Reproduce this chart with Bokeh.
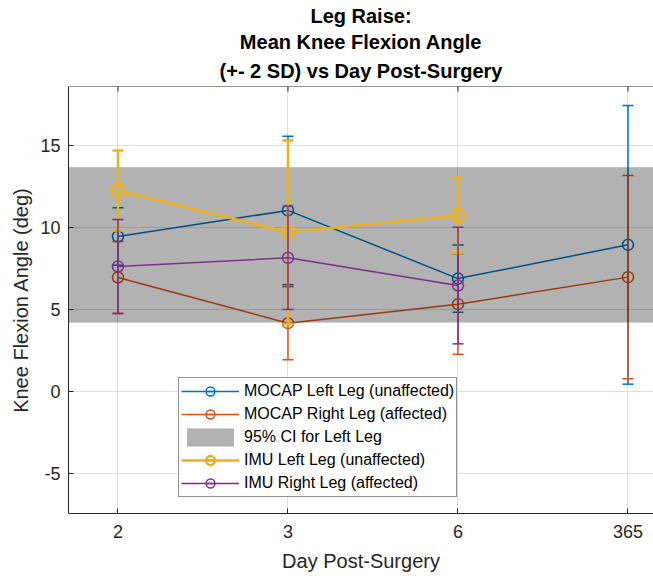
import math
from bokeh.plotting import figure
from bokeh.models import Range1d, FixedTicker, Legend, LegendItem, Title, Span
from bokeh.embed import file_html
from bokeh.resources import INLINE

nan = float("nan")

# ---- data ----
day_labels = ["2", "3", "6", "365"]
x_pos = [1, 2, 3, 4]

mocap_left_mean = [9.45, 11.04, 6.88, 8.94]
mocap_left_err = [1.75, 4.53, 2.05, 8.50]
mocap_right_mean = [6.95, 4.16, 5.32, 6.97]
mocap_right_err = [2.20, 2.23, 3.06, 6.20]
imu_left_mean = [12.26, 9.71, 10.73, nan]
imu_left_err = [2.44, 5.60, 2.30, nan]
imu_right_mean = [7.62, 8.15, 6.46, nan]
imu_right_err = [2.87, 3.15, 3.56, nan]

ci_lower = [4.21]
ci_upper = [13.66]

y_ticks = [-5, 0, 5, 10, 15]
y_tick_labels = ["-5", "0", "5", "10", "15"]

title_lines = ["Leg Raise:", "Mean Knee Flexion Angle", "(+- 2 SD) vs Day Post-Surgery"]

FONT = "Liberation Sans"
AX = "#262626"

p = figure(width=653, height=576, output_backend="svg", toolbar_location=None,
           x_range=Range1d(0.709, 4.15), y_range=Range1d(-7.45, 18.6),
           min_border_left=68, min_border_right=0, min_border_top=86, min_border_bottom=63)
p.outline_line_color = None
p.background_fill_color = "white"
p.border_fill_color = "white"

# axes
xa = p.xaxis[0]
xa.ticker = FixedTicker(ticks=x_pos)
xa.major_label_overrides = {xv: lab for xv, lab in zip(x_pos, day_labels)}
ya = p.yaxis[0]
ya.ticker = FixedTicker(ticks=y_ticks)
ya.major_label_overrides = {yv: lab for yv, lab in zip(y_ticks, y_tick_labels)}
for ax in (xa, ya):
    ax.major_tick_in = 5
    ax.major_tick_out = 0
    ax.minor_tick_line_color = None
    ax.axis_line_color = AX
    ax.major_tick_line_color = AX
    ax.major_label_text_color = AX
    ax.major_label_text_font = FONT
    ax.major_label_text_font_size = "18px"
    ax.axis_label_text_font = FONT
    ax.axis_label_text_font_size = "20px"
    ax.axis_label_text_font_style = "normal"
    ax.axis_label_text_color = AX
xa.axis_label = "Day Post-Surgery"
ya.axis_label = "Knee Flexion Angle (deg)"
xa.major_label_standoff = 11
xa.axis_label_standoff = 9
ya.major_label_standoff = 8
ya.axis_label_standoff = 5

p.xgrid.ticker = FixedTicker(ticks=x_pos)
p.ygrid.ticker = FixedTicker(ticks=y_ticks)
for g in (p.xgrid[0], p.ygrid[0]):
    g.grid_line_color = "#dfdfdf"
    g.grid_line_width = 1

# titles: the built-in title is the outermost line; added ones stack outward from the plot
title_style = dict(align="center", text_font=FONT, text_font_size="20px",
                   text_font_style="bold", text_color="#000000")
p.title.text = title_lines[0]
for k, v in title_style.items():
    setattr(p.title, k, v)
p.title.standoff = 2
p.add_layout(Title(text=title_lines[2], standoff=9, **title_style), "above")
p.add_layout(Title(text=title_lines[1], standoff=2, **title_style), "above")


def series(mean, err, color, lw, msize):
    lo = [m - e for m, e in zip(mean, err)]
    hi = [m + e for m, e in zip(mean, err)]
    ln = p.line(x_pos, mean, line_color=color, line_width=lw)
    p.segment(x0=x_pos, y0=lo, x1=x_pos, y1=hi, line_color=color, line_width=lw)
    p.scatter(x_pos, lo, marker="dash", size=11, line_color=color, line_width=lw)
    p.scatter(x_pos, hi, marker="dash", size=11, line_color=color, line_width=lw)
    mk = p.scatter(x_pos, mean, marker="circle", size=msize, fill_color=None,
                   line_color=color, line_width=lw)
    # legend-only glyph (vertical error bar icon)
    bar = p.scatter([nan], [nan], marker="dash", angle=math.pi / 2, size=17,
                    line_color=color, line_width=lw)
    return [ln, bar, mk]


r_ml = series(mocap_left_mean, mocap_left_err, "#0072BD", 1.5, 11)
r_mr = series(mocap_right_mean, mocap_right_err, "#D95319", 1.5, 11)

band = p.quad(left=[p.x_range.start], right=[p.x_range.end], bottom=ci_lower, top=ci_upper,
              fill_color="black", fill_alpha=0.3, line_color="black", line_alpha=0.12,
              line_width=1)

r_il = series(imu_left_mean, imu_left_err, "#EDB120", 2.5, 13)
r_ir = series(imu_right_mean, imu_right_err, "#7E2F8E", 1.5, 11)

# box: top border line with inward ticks
y_top = p.y_range.end
p.add_layout(Span(location=y_top, dimension="width", line_color=AX, line_width=1))
p.scatter(x_pos, [y_top] * len(x_pos), marker="dash", angle=math.pi / 2, size=10,
          line_color=AX, line_width=1)

legend = Legend(items=[
    LegendItem(label="MOCAP Left Leg (unaffected)", renderers=r_ml),
    LegendItem(label="MOCAP Right Leg (affected)", renderers=r_mr),
    LegendItem(label="95% CI for Left Leg", renderers=[band]),
    LegendItem(label="IMU Left Leg (unaffected)", renderers=r_il),
    LegendItem(label="IMU Right Leg (affected)", renderers=r_ir),
], location=(110, 16))
legend.label_text_font = FONT
legend.label_text_font_size = "16px"
legend.label_text_color = "#000000"
legend.glyph_width = 58
legend.glyph_height = 22
legend.label_height = 22
legend.spacing = 1
legend.padding = 2
legend.margin = 0
legend.label_standoff = 5
legend.border_line_color = AX
legend.border_line_width = 1
legend.background_fill_color = "white"
legend.background_fill_alpha = 1.0
p.add_layout(legend, "center")

open("out.html", "w").write(file_html(p, INLINE))
